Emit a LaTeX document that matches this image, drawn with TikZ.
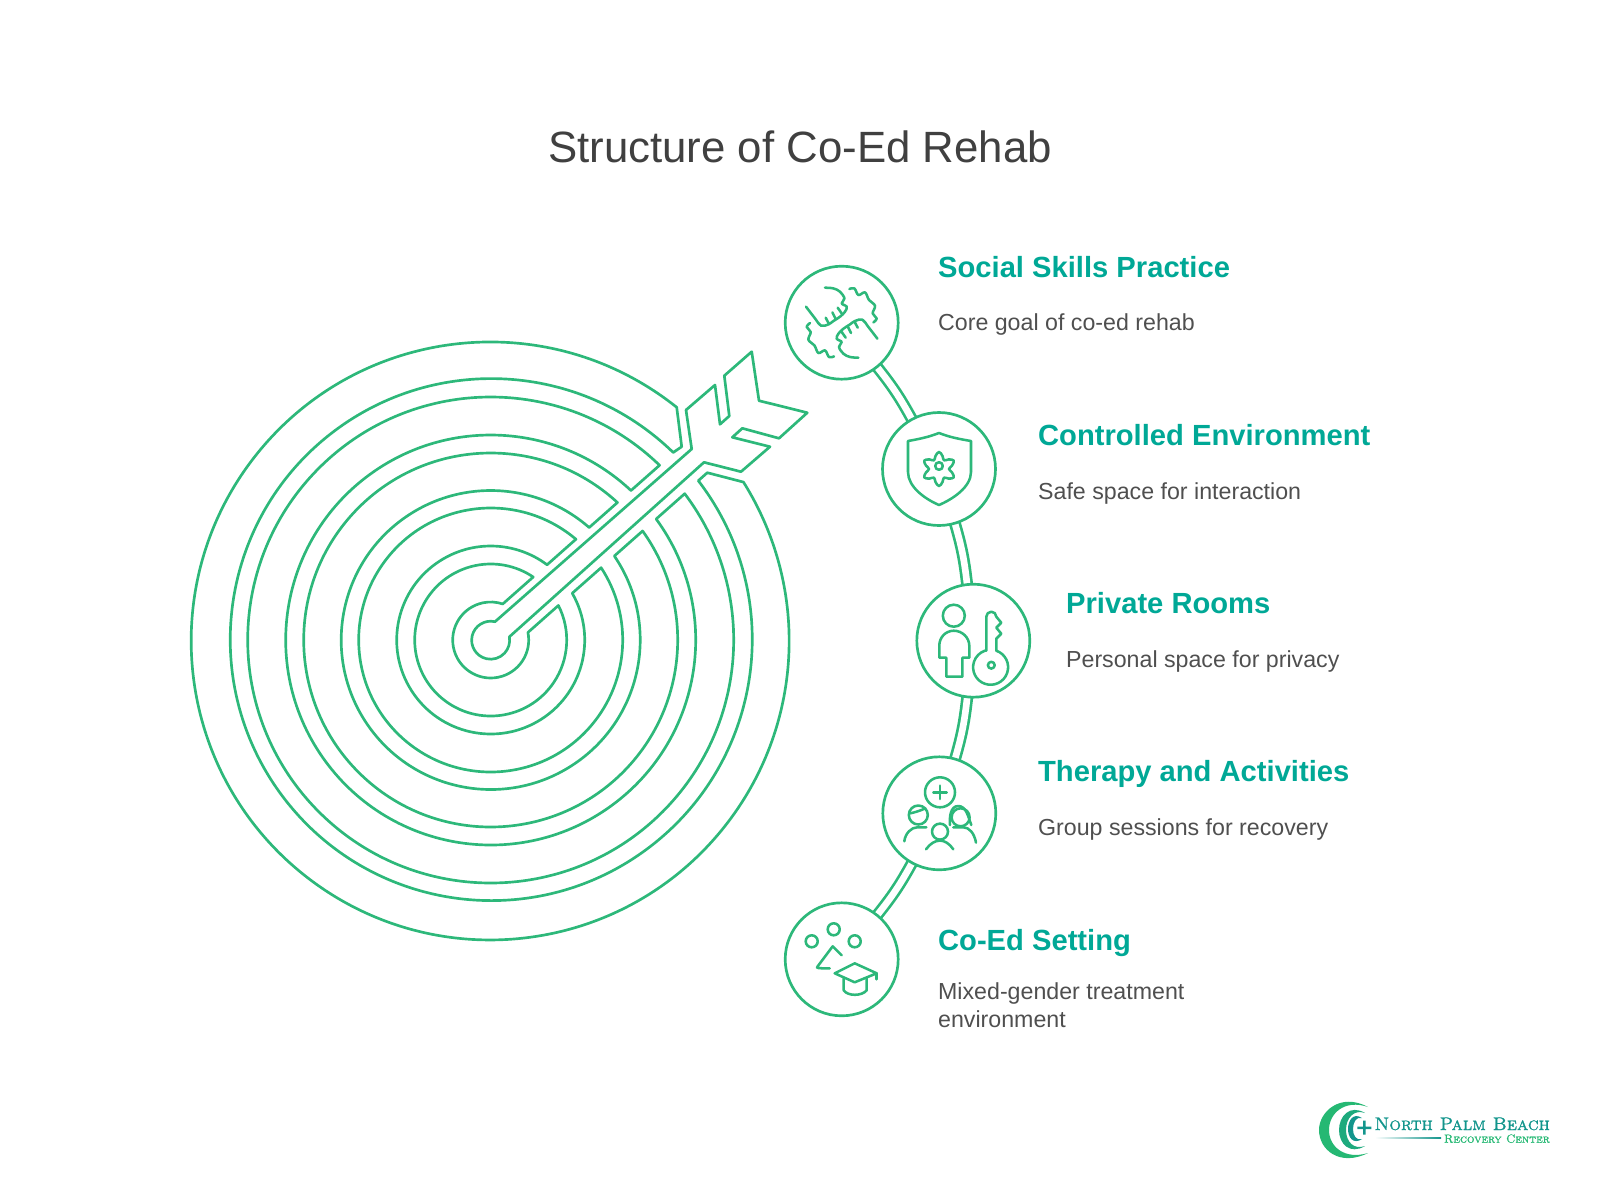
\documentclass[tikz,border=0pt]{standalone}
\usepackage{fontspec}
\setsansfont{Liberation Sans}
\newfontfamily\logofont{lmromancaps10-regular.otf}[FakeBold=1.2]
\usetikzlibrary{backgrounds}
\definecolor{ringgreen}{HTML}{2DB87A}
\definecolor{headteal}{HTML}{00A896}
\definecolor{bodygray}{HTML}{4F4F4F}
\definecolor{titlegray}{HTML}{404040}
\definecolor{logoteal}{HTML}{12958C}
\definecolor{logogreen}{HTML}{25B873}
\tikzset{
  ring/.style={draw=ringgreen, line width=3.8pt, line join=round},
  iconring/.style={ring, circle, fill=white, minimum size=5.65cm},
  icon/.style={ring, line width=3.6pt, line cap=round},
  link/.style={draw=ringgreen, line width=3.8pt, double=white, double distance=9.5pt, shorten <=-4pt, shorten >=-4pt},
  heading/.style={anchor=base west, inner sep=0pt, text=headteal, font=\sffamily\bfseries\fontsize{41.5}{48}\selectfont},
  desc/.style={anchor=base west, inner sep=0pt, text=bodygray, align=left, font=\sffamily\fontsize{33}{39.3}\selectfont},
}
\begin{document}
\begin{tikzpicture}[x=0.05cm, y=-0.05cm]
  \useasboundingbox (0,0) rectangle (1600,1200);
  \node[anchor=base, text=titlegray, font=\sffamily\fontsize{62.3}{70}\selectfont] (title) at (800,162) {Structure of Co-Ed Rehab};

  % target
  \coordinate (target) at (490.7,640);
  \begin{scope}[shift={(target)}]
    \draw[ring] (-55.98:76) arc (-55.98:-387.02:76) -- (-371.5:38) arc (-371.5:-71.5:38) -- cycle;
    \draw[ring] (-49.78:132) arc (-49.78:-393.22:132) -- (-389.84:94) arc (-389.84:-53.16:94) -- cycle;
    \draw[ring] (-47.33:187) arc (-47.33:-395.67:187) -- (-394.2:149.5) arc (-394.2:-48.8:149.5) -- cycle;
    \draw[ring] (-45.98:243) arc (-45.98:-397.02:243) -- (-396.18:205) arc (-396.18:-46.82:205) -- cycle;
  \end{scope}
  \draw[ring] (676.7,407.3) arc (-51.4:-392.1:299) -- (707.3,472.7) -- (698.3,480.7) arc (-397.5:-45.8:261) -- (681.7,446.7) -- cycle;

  % arrow
  \draw[ring] (495,621.7) arc (-76.8:-370.2:19) -- (704,462.3) -- (741,471.7) -- (770,446.7) -- (732.3,437.3) -- (742.3,428.3)
    -- (779,438.3) -- (807.3,412.7) -- (759,400.7) -- (751.7,351.7) -- (724.3,375.7) -- (729.3,416) -- (720,424.3) -- (715,385) -- (686,410) -- (691.7,449) -- cycle;

  % circles
  \node[iconring] (social) at (841.7,322.7) {};
  \node[iconring] (controlled) at (939,469) {};
  \node[iconring] (private) at (973.3,640.7) {};
  \node[iconring] (therapy) at (939.3,813.3) {};
  \node[iconring] (coed) at (841.7,959.3) {};

  \begin{scope}[on background layer]
    \draw[link] (social) to[bend left=5] (controlled);
    \draw[link] (controlled) to[bend left=5] (private);
    \draw[link] (private) to[bend left=5] (therapy);
    \draw[link] (therapy) to[bend left=5] (coed);
  \end{scope}

  % fists
  \begin{scope}[shift={(social)}]
    \foreach \r in {0,180} {
      \draw[icon, rotate=\r] plot[smooth, tension=0.6] coordinates {(-35.7,-16) (-26.7,-4.3) (-20.7,3) (-13.3,1.7) (-8.3,-1.7) (-1.7,-6) (3.3,-11) (5,-16) (0,-19.3) (2.7,-24.3) (-1.7,-31) (-8.3,-34.3) (-16.7,-35)};
      \draw[icon, rotate=\r] (-16,-5) -- (-12.7,1.3) (-9.3,-10.3) -- (-6,-3.7) (-4,-15) -- (0,-9.3);
      \draw[icon, rotate=\r] plot[smooth, tension=0.6] coordinates {(7.7,-33.7) (12.7,-34.3) (16.7,-27.7) (23.3,-30.3) (27.3,-22.7) (33.3,-17) (31,-9.3) (35,-4.3) (31.7,-0.3)};
    }
  \end{scope}

  % shield and gear
  \begin{scope}[shift={(controlled)}]
    \draw[icon] (-31,-28) .. controls (-14,-31) and (-8,-33) .. (0,-36) .. controls (8,-33) and (14,-31) .. (32,-28)
      -- (32,3) .. controls (32,18) and (14,30) .. (0,36) .. controls (-14,30) and (-31,18) .. (-31,3) -- cycle;
    \draw[icon] plot[smooth cycle, tension=0.7, domain=0:345, samples=24] (\x+30:{13.5+3.5*cos(6*\x)});
    \draw[icon] (0,-3) circle (3.8);
  \end{scope}

  % person and key
  \begin{scope}[shift={(private)}]
    \draw[icon] (-19.5,-25) circle (11);
    \draw[icon] (-19.5,-10) .. controls (-28,-10) and (-34,-3) .. (-34,5) -- (-34,17) -- (-27,17) -- (-27,36) -- (-11,36) -- (-11,17) -- (-4,17) -- (-4,5) .. controls (-4,-3) and (-11,-10) .. (-19.5,-10);
    \draw[icon] (13,10) -- (13,-24) arc (180:360:5) -- (28,-18) -- (23,-13) -- (28,-7) -- (23,-2) -- (23,10) arc (-71:251:17.5) -- cycle;
    \draw[icon] (18,24.5) circle (3.4);
  \end{scope}

  % group
  \begin{scope}[shift={(therapy)}]
    \draw[icon] (0.7,-21) circle (15);
    \draw[icon] (-6,-21) -- (7.4,-21) (0.7,-27.7) -- (0.7,-14.3);
    \draw[icon] (-21,1.7) circle (9.5);
    \draw[icon] (-29,0) .. controls (-24,-1) and (-18,-3) .. (-14,-5);
    \draw[icon] (-35,28) .. controls (-34,20) and (-28,14) .. (-22,14) -- (-13,14);
    \draw[icon] (21.3,4) circle (9);
    \draw[icon] (10.7,11.7) .. controls (10,4) and (11,-7.3) .. (19,-7.3) .. controls (27,-7.3) and (29,4) .. (32,11.7);
    \draw[icon] (36.7,29.3) .. controls (35,20) and (30,14) .. (24,14) -- (14,14);
    \draw[icon] (0.7,18.3) circle (8);
    \draw[icon] (-13.3,36) .. controls (-9,30) and (-4,27.3) .. (0.7,27.3) .. controls (5,27.3) and (10,30) .. (14,36);
  \end{scope}

  % people and cap
  \begin{scope}[shift={(coed)}]
    \draw[icon] (-30,-18) circle (6);
    \draw[icon] (-8,-30) circle (6);
    \draw[icon] (13,-18) circle (6);
    \draw[icon] (0,-4) -- (-9,-13) -- (-24,7) .. controls (-26,9) and (-24,9) .. (-12,9);
    \draw[icon] (-7,14) -- (13,4) -- (35,14) -- (13,23) -- cycle;
    \draw[icon] (2,19) -- (2,31) .. controls (6,37) and (20,37) .. (25,31) -- (25,19);
    \draw[icon] (35,14) -- (35,20);
  \end{scope}

  % labels
  \node[heading] (socialhead) at (938,277.6) {Social Skills Practice};
  \node[desc] (socialdesc) at (938,330.6) {Core goal of co-ed rehab};
  \node[heading] (controlledhead) at (1038,445) {Controlled Environment};
  \node[desc] (controlleddesc) at (1038,499) {Safe space for interaction};
  \node[heading] (privatehead) at (1066,613) {Private Rooms};
  \node[desc] (privatedesc) at (1066,667) {Personal space for privacy};
  \node[heading] (therapyhead) at (1038,781.6) {Therapy and Activities};
  \node[desc] (therapydesc) at (1038,835.7) {Group sessions for recovery};
  \node[heading] (coedhead) at (938,950) {Co-Ed Setting};
  \node[desc] (coeddesc) at (938,1027.6) {Mixed-gender treatment\\environment};

  % logo
  \fill[logogreen] (1368,1107) .. controls (1340,1092) and (1319,1112) .. (1319,1130) .. controls (1319,1150) and (1340,1167) .. (1368,1153) .. controls (1345,1160) and (1329,1147) .. (1329,1130) .. controls (1329,1113) and (1345,1099) .. (1368,1107) -- cycle;
  \fill[logogreen!60!logoteal] (1365,1113) .. controls (1350,1104) and (1339,1116) .. (1339,1130) .. controls (1339,1144) and (1350,1155) .. (1365,1146) .. controls (1354,1150) and (1346,1142) .. (1346,1130) .. controls (1346,1118) and (1354,1109) .. (1365,1113) -- cycle;
  \fill[logoteal] (1362,1118) .. controls (1353,1112) and (1348,1121) .. (1348,1129) .. controls (1348,1137) and (1353,1145) .. (1362,1139) .. controls (1356,1141) and (1353,1135) .. (1353,1129) .. controls (1353,1123) and (1356,1116) .. (1362,1118) -- cycle;
  \fill[logoteal] (1357.3,1126.5) rectangle (1371.3,1129) (1363,1120.7) rectangle (1365.5,1134.7);
  \shade[left color=white, right color=logoteal] (1375,1137.5) rectangle (1441,1138.8);
  \node[anchor=base east, text=logoteal, inner sep=0pt, font=\logofont\fontsize{26}{28}\selectfont] (logoname) at (1550,1130) {North Palm Beach};
  \node[anchor=base east, text=logogreen, inner sep=0pt, font=\logofont\fontsize{16.8}{18}\selectfont] (logosub) at (1550,1142.7) {Recovery Center};
\end{tikzpicture}
\end{document}
